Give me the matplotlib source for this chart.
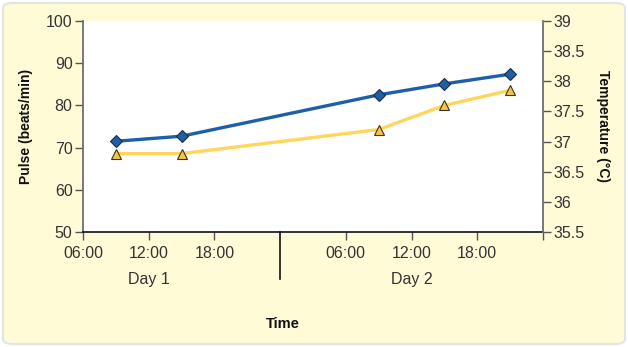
import matplotlib
matplotlib.use("Agg")
import matplotlib.pyplot as plt
from matplotlib.patches import FancyBboxPatch
from matplotlib.ticker import FixedLocator, FixedFormatter

# hours counted from midnight at the start of Day 1
hours = [9, 15, 33, 39, 45]
pulse = [71.5, 72.7, 82.5, 85.1, 87.4]
temperature = [36.8, 36.8, 37.2, 37.6, 37.85]

tick_hours = [6, 12, 18, 30, 36, 42, 48]
tick_labels = ["06:00", "12:00", "18:00", "06:00", "12:00", "18:00", ""]
day_labels = ["Day 1", "Day 2"]
day_centres = [12, 36]

plt.rcParams["font.family"] = ["Liberation Sans", "DejaVu Sans"]

W, H = 628, 347
fig = plt.figure(figsize=(W / 100, H / 100), dpi=100, facecolor="white")

# yellow panel behind everything
panel = FancyBboxPatch((3 / W, 3 / H), (W - 6) / W, (H - 6) / H,
                       boxstyle="round,pad=0,rounding_size=0.015",
                       transform=fig.transFigure, facecolor="#FFFBD7",
                       edgecolor="#E4E4E4", linewidth=1.5, zorder=-5)
fig.patches.append(panel)

ax = fig.add_axes([83 / W, 1 - 232 / H, 460 / W, 211 / H])
ax.set_facecolor("white")
ax2 = ax.twinx()

ax.plot(hours, pulse, color="#1E5FAA", linewidth=2.4, marker="D",
        markersize=6.5, markerfacecolor="#1F5FA6", markeredgecolor="#1B2C48",
        markeredgewidth=0.8, zorder=3)
ax2.plot(hours, temperature, color="#FFD65C", linewidth=2.4, marker="^",
         markersize=7.5, markerfacecolor="#F6C445", markeredgecolor="#3A3220",
         markeredgewidth=0.8, zorder=3)

ax.set_xlim(6, 48)
ax.set_ylim(50, 100)
ax.set_yticks(range(50, 101, 10))
ax2.set_ylim(35.5, 39)
ax2.set_yticks([35.5 + 0.5 * i for i in range(8)])
ax2.set_yticklabels(["%g" % (35.5 + 0.5 * i) for i in range(8)])

ax.xaxis.set_major_locator(FixedLocator(tick_hours))
ax.xaxis.set_major_formatter(FixedFormatter(tick_labels))

for a in (ax, ax2):
    a.spines["top"].set_visible(False)
ax.spines["left"].set_color("#6E6E6E")
ax.spines["left"].set_linewidth(1.3)
ax2.spines["left"].set_visible(False)
ax2.spines["right"].set_color("#6E6E6E")
ax2.spines["right"].set_linewidth(1.3)
ax.spines["right"].set_visible(False)
ax2.spines["bottom"].set_visible(False)
ax.spines["bottom"].set_color("#111111")
ax.spines["bottom"].set_linewidth(1.2)

ax.tick_params(axis="y", direction="out", length=5.5, width=1, color="#555555",
               labelsize=11.5, labelcolor="#333333", pad=2)
ax2.tick_params(axis="y", direction="out", length=5.5, width=1, color="#555555",
                labelsize=11.5, labelcolor="#333333", pad=2)
ax.tick_params(axis="x", direction="out", length=5.5, width=1, color="#555555",
               labelsize=11.5, labelcolor="#333333", pad=4.5)

# divider between the two days
ax.plot([24, 24], [0, -0.225], color="#111111", linewidth=1.2,
        transform=ax.get_xaxis_transform(), clip_on=False)
for label, centre in zip(day_labels, day_centres):
    ax.text(centre, -0.223, label, transform=ax.get_xaxis_transform(),
            ha="center", va="center", fontsize=11.5, color="#333333")

ax.set_ylabel("Pulse (beats/min)", fontsize=10, fontweight="bold",
              color="#111111", va="center")
ax.yaxis.set_label_coords(-0.124, 0.5)
ax2.set_ylabel("Temperature (\u00b0C)", fontsize=10, fontweight="bold",
               color="#111111", rotation=-90, va="center")
ax2.yaxis.set_label_coords(1.13, 0.5)

fig.text(283 / W, 1 - 324 / H, "Time", ha="center", va="center",
         fontsize=10.5, fontweight="bold", color="#111111")

fig.savefig("out.png", dpi=100, facecolor=fig.get_facecolor())
